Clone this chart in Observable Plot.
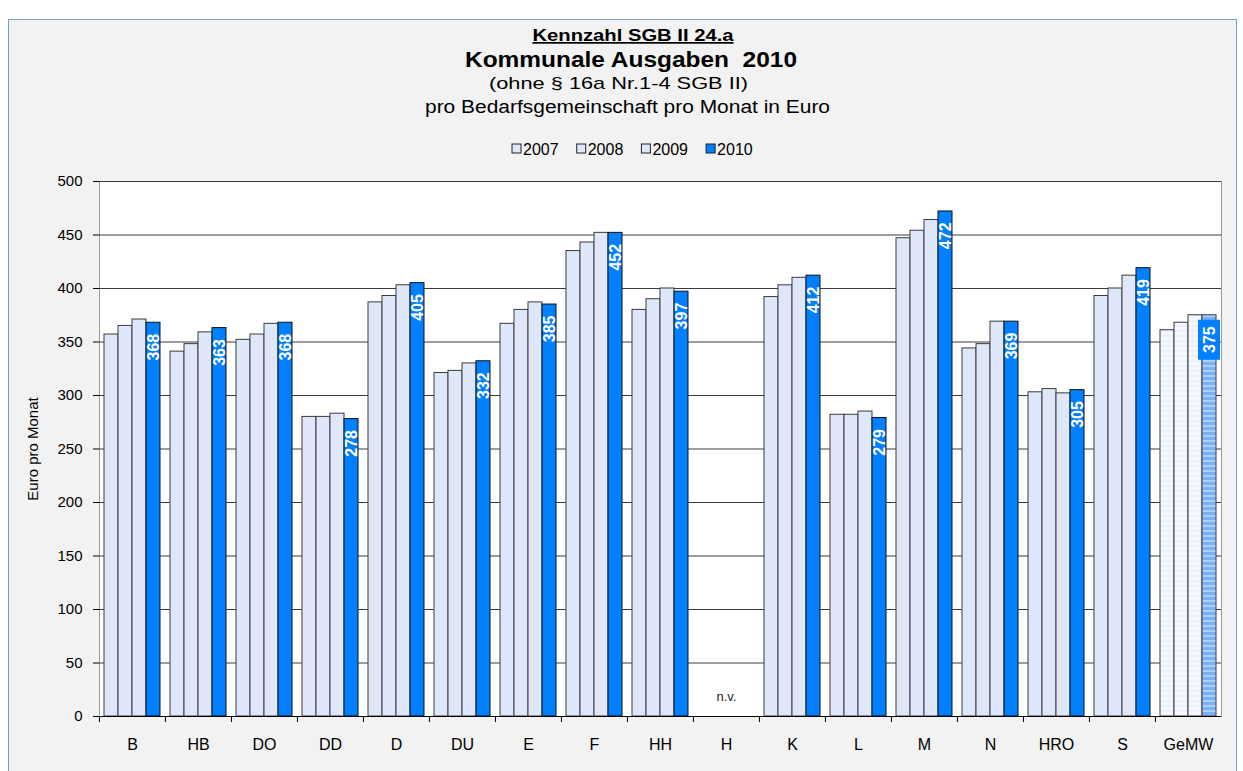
<!DOCTYPE html>
<html><head><meta charset="utf-8">
<script src="https://cdn.jsdelivr.net/npm/d3@7"></script>
<script src="https://cdn.jsdelivr.net/npm/@observablehq/plot@0.6"></script>
<style>
body{margin:0;background:#fff;font-family:"Liberation Sans",Arial,sans-serif;}
#wrap{position:relative;width:1243px;height:771px;overflow:hidden;background:#fff;}
#box{position:absolute;left:8px;top:19px;width:1229px;height:770px;background:#f2f2f2;border:1px solid #7d9cc4;box-sizing:border-box;}
#head{position:absolute;left:0;top:0;}
#chart{position:absolute;left:0;top:0;}
</style></head>
<body><div id="wrap"><div id="box"></div><svg id="head" width="1243" height="175"></svg><div id="chart"></div></div>
<script>
// ---- data ----
const cities = ["B","HB","DO","DD","D","DU","E","F","HH","H","K","L","M","N","HRO","S","GeMW"];
const years = [2007, 2008, 2009, 2010];
const v2007 = [357,341,352,280,387,321,367,435,380,null,392,282,447,344,303,393,361];
const v2008 = [365,348,357,280,393,323,380,443,390,null,403,282,454,348,306,400,368];
const v2009 = [371,359,367,283,403,330,387,452,400,null,410,285,464,369,302,412,375];
const v2010 = [368,363,368,278,405,332,385,452,397,null,412,279,472,369,305,419,375];
const yTicks = [0,50,100,150,200,250,300,350,400,450,500];
const avgCity = "GeMW";
const missingText = "n.v.";
const titleLines = ["Kennzahl SGB II 24.a","Kommunale Ausgaben  2010","(ohne § 16a Nr.1-4 SGB II)","pro Bedarfsgemeinschaft pro Monat in Euro"];
const yLabel = "Euro pro Monat";

// colours
const cOld = "#dfe8fb", c2010 = "#0080ff";

const series = [v2007, v2008, v2009, v2010];
const rows = [];
cities.forEach((c, i) => years.forEach((y, j) => {
  if (series[j][i] != null) rows.push({city: c, year: y, value: series[j][i]});
}));
const isAvg = d => d.city === avgCity;
const missing = cities.filter((c, i) => v2010[i] == null).map(c => ({city: c}));

// ---- header (titles + legend) ----
const head = d3.select("#head");
const tl = [
  {t: titleLines[0], x: 633, y: 41, size: 17, w: 201, bold: true, u: true},
  {t: titleLines[1], x: 631, y: 67, size: 22, w: 332, bold: true},
  {t: titleLines[2], x: 618.5, y: 89, size: 17, w: 259},
  {t: titleLines[3], x: 627.5, y: 113, size: 18, w: 405}
];
tl.forEach(o => head.append("text").attr("x", o.x).attr("y", o.y)
  .attr("text-anchor", "middle").attr("font-size", o.size)
  .attr("font-weight", o.bold ? "bold" : "normal")
  .attr("textLength", o.w).attr("lengthAdjust", "spacingAndGlyphs")
  .style("white-space", "pre").style("text-decoration", o.u ? "underline" : "none")
  .attr("font-family", "Liberation Sans, Arial, sans-serif").text(o.t));
const lg = head.append("g").attr("font-family", "Liberation Sans, Arial, sans-serif").attr("font-size", 16);
years.forEach((y, i) => {
  const gx = 512 + i * 64.7;
  lg.append("rect").attr("x", gx).attr("y", 144).attr("width", 9).attr("height", 9)
    .attr("fill", y === 2010 ? c2010 : cOld).attr("stroke", "#222");
  lg.append("text").attr("x", gx + 11).attr("y", 155).text(y);
});

// ---- chart ----
const W = 1243, H = 771, mL = 98, mR = 21, mT = 181, mB = 55;
const halfStep = (W - mL - mR) / cities.length / 2;
const fxOpts = {domain: cities, padding: 0, label: null};
const axisMarks = [];
if (Plot.axisFx) {
  axisMarks.push(Plot.axisFx({anchor: "bottom", tickSize: 0, tickPadding: 22, label: null, fontSize: 16}));
  axisMarks.push(Plot.axisFx({anchor: "bottom", tickSize: 6, text: null, label: null, dx: -halfStep}));
} else {
  Object.assign(fxOpts, {axis: "bottom", tickSize: 0, tickPadding: 22});
}
const SENT_L = "#010203", SENT_D = "#030201";
const chart = Plot.plot({
  width: W, height: H,
  marginLeft: mL, marginRight: mR, marginTop: mT, marginBottom: mB,
  style: {background: "transparent", fontFamily: "Liberation Sans, Arial, sans-serif", fontSize: "15px", color: "#000"},
  fx: fxOpts,
  x: {type: "band", domain: years, paddingInner: 0, paddingOuter: 0.34, axis: null},
  y: {domain: [0, 500], ticks: yTicks, tickSize: 6, tickPadding: 11, line: true,
      label: yLabel, labelAnchor: "center", labelOffset: 72, labelArrow: "none"},
  marks: [
    Plot.frame({fill: "white", stroke: "#9a9a9a", facet: "super"}),
    Plot.ruleY(yTicks.filter(t => t > 0), {stroke: "#3a3a3a", strokeWidth: 1}),
    Plot.barY(rows.filter(d => !isAvg(d) && d.year !== 2010), {fx: "city", x: "year", y: "value", fill: cOld, stroke: "#3a3a3a", strokeWidth: 1}),
    Plot.barY(rows.filter(d => !isAvg(d) && d.year === 2010), {fx: "city", x: "year", y: "value", fill: c2010, stroke: "#111", strokeWidth: 1}),
    Plot.barY(rows.filter(d => isAvg(d) && d.year !== 2010), {fx: "city", x: "year", y: "value", fill: SENT_L, stroke: "#3a3a3a", strokeWidth: 1}),
    Plot.barY(rows.filter(d => isAvg(d) && d.year === 2010), {fx: "city", x: "year", y: "value", fill: SENT_D, stroke: "#3a3a3a", strokeWidth: 1}),
    Plot.ruleY([0], {stroke: "#000", strokeWidth: 1.2}),
    Plot.barY(rows.filter(d => isAvg(d) && d.year === 2010), {fx: "city", x: "year", y1: "value", y2: "value",
      insetTop: 5, insetBottom: -45, insetLeft: -4, insetRight: -4, fill: c2010}),
    Plot.text(rows.filter(d => d.year === 2010), {fx: "city", x: "year", y: "value", text: d => String(d.value),
      rotate: -90, textAnchor: "end", lineAnchor: "middle", dy: 11, fill: "white", fontWeight: "bold", fontSize: 16}),
    Plot.text(missing, {fx: "city", frameAnchor: "bottom", dy: -16, text: () => missingText, fontSize: 13, fill: "#222"}),
    ...axisMarks
  ]
});
// stripe patterns for the average bars
const defs = d3.create("svg:defs");
const pat = (id, base, stripe) => {
  const p = defs.append("pattern").attr("id", id).attr("patternUnits", "userSpaceOnUse").attr("width", 1243).attr("height", 5);
  p.append("rect").attr("width", 1243).attr("height", 5).attr("fill", base).attr("shape-rendering", "crispEdges");
  p.append("rect").attr("width", 1243).attr("height", 2).attr("fill", stripe).attr("shape-rendering", "crispEdges");
};
pat("avgLight", "#f5f8fe", "#ebf1fc");
pat("avgDark", "#78b2f4", "#a9d0fb");
chart.insertBefore(defs.node(), chart.firstChild);
d3.select(chart).selectAll(`[fill="${SENT_L}"]`).attr("fill", "url(#avgLight)");
d3.select(chart).selectAll(`[fill="${SENT_D}"]`).attr("fill", "url(#avgDark)");
document.getElementById("chart").appendChild(chart);
</script></body></html>
